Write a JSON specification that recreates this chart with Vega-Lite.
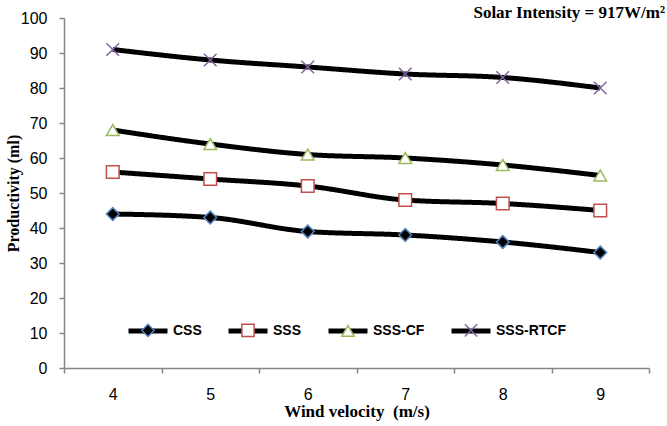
{
  "$schema": "https://vega.github.io/schema/vega-lite/v6.json",
  "width": 585,
  "height": 350,
  "autosize": {"type": "none"},
  "padding": {"left": 64, "top": 18, "right": 18, "bottom": 58},
  "background": "white",
  "title": {
    "text": "Solar Intensity = 917W/m²",
    "anchor": "end",
    "frame": "group",
    "font": "Liberation Serif",
    "fontSize": 17,
    "fontWeight": "bold",
    "color": "black",
    "offset": 0,
    "dx": 16,
    "dy": 12
  },
  "config": {
    "view": {"stroke": null},
    "axis": {
      "grid": false,
      "domainColor": "#868686",
      "domainWidth": 1.5,
      "tickColor": "#868686",
      "tickWidth": 1.5,
      "tickSize": 5,
      "labelFont": "Liberation Sans",
      "labelFontSize": 16,
      "labelColor": "black",
      "titleFont": "Liberation Serif",
      "titleFontSize": 16,
      "titleFontWeight": "bold",
      "titleColor": "black"
    },
    "legend": {
      "labelFont": "Liberation Sans",
      "labelFontSize": 14,
      "labelFontWeight": "bold",
      "labelColor": "black",
      "padding": 0,
      "titlePadding": 0
    }
  },
  "data": {
    "values": [
      {"wind": 4, "series": "CSS", "value": 44},
      {"wind": 5, "series": "CSS", "value": 43},
      {"wind": 6, "series": "CSS", "value": 39},
      {"wind": 7, "series": "CSS", "value": 38},
      {"wind": 8, "series": "CSS", "value": 36},
      {"wind": 9, "series": "CSS", "value": 33},
      {"wind": 4, "series": "SSS", "value": 56},
      {"wind": 5, "series": "SSS", "value": 54},
      {"wind": 6, "series": "SSS", "value": 52},
      {"wind": 7, "series": "SSS", "value": 48},
      {"wind": 8, "series": "SSS", "value": 47},
      {"wind": 9, "series": "SSS", "value": 45},
      {"wind": 4, "series": "SSS-CF", "value": 68},
      {"wind": 5, "series": "SSS-CF", "value": 64},
      {"wind": 6, "series": "SSS-CF", "value": 61},
      {"wind": 7, "series": "SSS-CF", "value": 60},
      {"wind": 8, "series": "SSS-CF", "value": 58},
      {"wind": 9, "series": "SSS-CF", "value": 55},
      {"wind": 4, "series": "SSS-RTCF", "value": 91},
      {"wind": 5, "series": "SSS-RTCF", "value": 88},
      {"wind": 6, "series": "SSS-RTCF", "value": 86},
      {"wind": 7, "series": "SSS-RTCF", "value": 84},
      {"wind": 8, "series": "SSS-RTCF", "value": 83},
      {"wind": 9, "series": "SSS-RTCF", "value": 80}
    ]
  },
  "encoding": {
    "x": {
      "field": "wind",
      "type": "ordinal",
      "scale": {"type": "band", "paddingInner": 0, "paddingOuter": 0},
      "axis": {
        "title": "Wind velocity\u00a0 (m/s)",
        "titleFontSize": 17,
        "labelAngle": 0,
        "tickBand": "extent",
        "labelPadding": 13,
        "titlePadding": 1
      }
    },
    "y": {
      "field": "value",
      "type": "quantitative",
      "scale": {"domain": [0, 100], "nice": false},
      "axis": {
        "title": "Productivity (ml)",
        "values": [0, 10, 20, 30, 40, 50, 60, 70, 80, 90, 100],
        "labelPadding": 12,
        "titleX": -51,
        "titleBaseline": "middle"
      }
    }
  },
  "layer": [
    {
      "mark": {"type": "line", "color": "black", "strokeWidth": 5, "interpolate": "monotone"},
      "encoding": {
        "strokeDash": {
          "field": "series",
          "type": "nominal",
          "scale": {
            "domain": ["CSS", "SSS", "SSS-CF", "SSS-RTCF", "none"],
            "range": [[1, 0], [1, 0], [1, 0], [1, 0], [1, 0]]
          },
          "legend": {
            "title": null,
            "values": ["CSS", "SSS", "SSS-CF", "SSS-RTCF"],
            "orient": "none",
            "direction": "horizontal",
            "columns": 4,
            "columnPadding": 16,
            "legendX": 62,
            "legendY": 291,
            "symbolType": "stroke",
            "symbolSize": 1521,
            "symbolStrokeWidth": 5,
            "symbolStrokeColor": "black",
            "labelOffset": 3
          }
        }
      }
    },
    {
      "mark": {"type": "point", "strokeWidth": 1.5, "opacity": 1, "size": 160},
      "encoding": {
        "shape": {
          "field": "series",
          "type": "nominal",
          "scale": {"range": ["diamond", "square", "triangle-up", "M-1,-1L1,1M-1,1L1,-1"]},
          "legend": {
            "title": null,
            "orient": "none",
            "direction": "horizontal",
            "columns": 4,
            "columnPadding": 16,
            "legendX": 77,
            "legendY": 305,
            "symbolSize": 150,
            "symbolStrokeWidth": 1.5,
            "labelOffset": 38,
            "labelOpacity": 0
          }
        },
        "stroke": {
          "field": "series",
          "type": "nominal",
          "scale": {"range": ["#4f81bd", "#c0504d", "#9bbb59", "#8064a2"]}
        },
        "fill": {
          "field": "series",
          "type": "nominal",
          "scale": {"range": ["black", "white", "white", "transparent"]}
        }
      }
    }
  ]
}
